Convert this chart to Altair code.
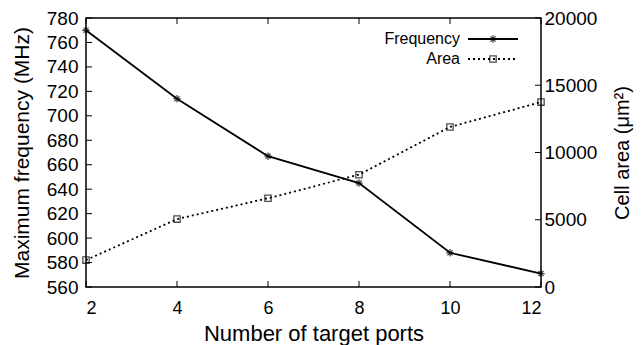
import altair as alt
import pandas as pd

ports = [2, 4, 6, 8, 10, 12]
frequency = [770, 714, 667, 645, 588, 571]
area = [2000, 5050, 6600, 8350, 11900, 13750]

x_ticks = [2, 4, 6, 8, 10, 12]
freq_ticks = [560, 580, 600, 620, 640, 660, 680, 700, 720, 740, 760, 780]
area_ticks = [0, 5000, 10000, 15000, 20000]

W, H = 455, 269
FONT = "Liberation Sans"

df = pd.DataFrame({"ports": ports, "frequency": frequency, "area": area})
xt = pd.DataFrame({"ports": x_ticks})
ft = pd.DataFrame({"frequency": freq_ticks})
at = pd.DataFrame({"area": area_ticks})

xs = alt.Scale(domain=[2, 12], nice=False, zero=False)
fs = alt.Scale(domain=[560, 780], nice=False, zero=False)
ars = alt.Scale(domain=[0, 20000], nice=False, zero=False)

ASTER = "M-1,0L1,0M0,-1L0,1M-0.7,-0.7L0.7,0.7M-0.7,0.7L0.7,-0.7"

common = dict(tickSize=0, domain=False, grid=False,
              labelFont=FONT, titleFont=FONT, labelColor="black", titleColor="black",
              titleFontWeight="normal", format="d")
x_axis = alt.Axis(values=x_ticks, labelFontSize=18, labelPadding=12, titlePadding=6,
                  titleFontSize=22, title="Number of target ports", **common)
f_axis = alt.Axis(values=freq_ticks, labelFontSize=19, labelPadding=8, titlePadding=14,
                  titleFontSize=21, title="Maximum frequency (MHz)", **common)
a_axis = alt.Axis(orient="right", values=area_ticks, labelFontSize=19, labelPadding=3,
                  titlePadding=36, titleFontSize=20, titleAngle=270,
                  title="Cell area (μm²)", **common)

X = alt.X("ports:Q", scale=xs, axis=x_axis)
YF = alt.Y("frequency:Q", scale=fs, axis=f_axis)
YA = alt.Y("area:Q", scale=ars, axis=a_axis)

one = pd.DataFrame({"a": [0]})
frame = alt.Chart(one).mark_rect(fill=None, stroke="black", strokeWidth=1.5).encode(
    x=alt.value(0), x2=alt.value(W), y=alt.value(0), y2=alt.value(H))

freq_line = alt.Chart(df).mark_line(color="black", strokeWidth=1.8).encode(x=X, y=YF)
freq_pts = alt.Chart(df).mark_point(shape=ASTER, size=55, color="black", strokeWidth=1.3,
                                    filled=False).encode(x=X, y=YF)
# inward ticks: bottom, top, left
bot_ticks = alt.Chart(xt).mark_rule(color="black", strokeWidth=1).encode(
    x=X, y=alt.value(H), y2=alt.value(H - 6))
top_ticks = alt.Chart(xt).mark_rule(color="black", strokeWidth=1).encode(
    x=X, y=alt.value(0), y2=alt.value(6))
left_ticks = alt.Chart(ft).mark_rule(color="black", strokeWidth=1).encode(
    y=YF, x=alt.value(0), x2=alt.value(6))

area_line = alt.Chart(df).mark_line(color="black", strokeWidth=1.8, strokeDash=[2, 3]).encode(
    x=X, y=YA)
area_pts = alt.Chart(df).mark_point(shape="square", size=40, color="black", strokeWidth=1.3,
                                    filled=False).encode(x=X, y=YA)
right_ticks = alt.Chart(at).mark_rule(color="black", strokeWidth=1).encode(
    y=YA, x=alt.value(W), x2=alt.value(W - 6))

# legend (drawn inside the right group so it shares its scales)
leg_text = alt.Chart(pd.DataFrame({"name": ["Frequency"]})).mark_text(
    align="right", baseline="middle", fontSize=16, font=FONT, color="black").encode(
    text="name:N", x=alt.value(374), y=alt.value(21))
leg_text2 = alt.Chart(pd.DataFrame({"name": ["Area"]})).mark_text(
    align="right", baseline="middle", fontSize=16, font=FONT, color="black").encode(
    text="name:N", x=alt.value(374), y=alt.value(41))
leg_l1 = alt.Chart(one).mark_rule(color="black", strokeWidth=1.8).encode(
    x=alt.value(382), x2=alt.value(432), y=alt.value(21))
leg_l2 = alt.Chart(one).mark_rule(color="black", strokeWidth=1.8, strokeDash=[2, 3]).encode(
    x=alt.value(382), x2=alt.value(432), y=alt.value(41))
leg_p1 = alt.Chart(one).mark_point(shape=ASTER, size=55, color="black",
                                   strokeWidth=1.3, filled=False).encode(
    x=alt.value(407), y=alt.value(21))
leg_p2 = alt.Chart(one).mark_point(shape="square", size=40, color="black",
                                   strokeWidth=1.3, filled=False).encode(
    x=alt.value(407), y=alt.value(41))

left_group = alt.layer(frame, freq_line, freq_pts, bot_ticks, top_ticks, left_ticks)
right_group = alt.layer(area_line, area_pts, right_ticks, leg_text, leg_text2,
                        leg_l1, leg_l2, leg_p1, leg_p2)

chart = alt.layer(left_group, right_group).resolve_scale(
    y="independent"
).properties(
    width=W, height=H,
    background="white",
    autosize=alt.AutoSizeParams(type="none"),
    padding={"left": 78, "top": 10, "right": 95, "bottom": 58},
).configure_view(stroke=None)

chart.save("out.html", embed_options={"renderer": "svg", "actions": False})
